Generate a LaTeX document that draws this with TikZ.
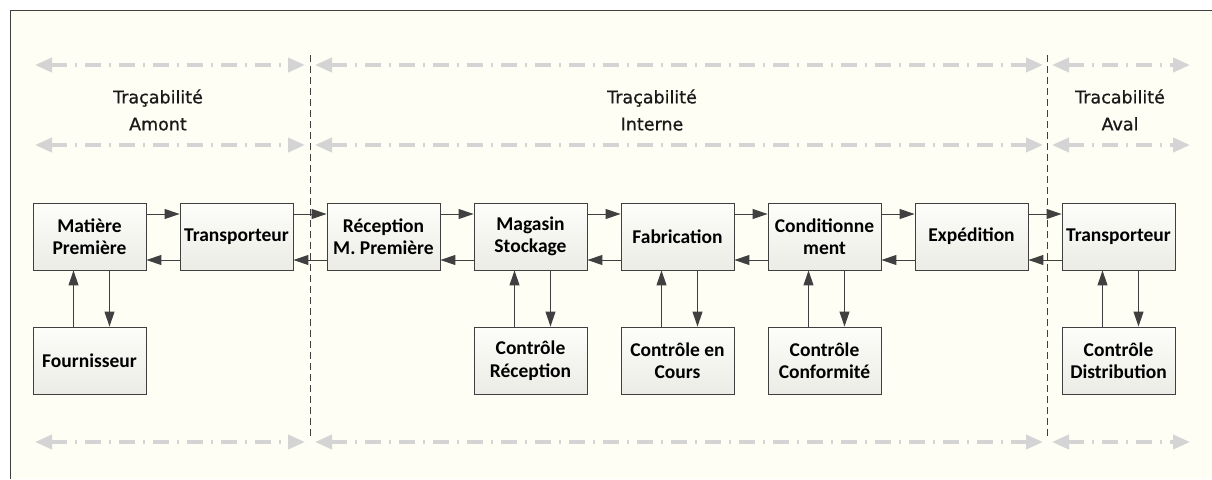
\documentclass[tikz,border=0pt]{standalone}
\usepackage{fontspec}
\setmainfont{Carlito}
\newfontfamily\titlefont[BoldFont=DejaVu Sans,BoldFeatures={FakeBold=0.8}]{DejaVu Sans}
\usetikzlibrary{arrows.meta,shadows}
\definecolor{bgcream}{RGB}{254,254,244}
\definecolor{linegray}{RGB}{64,64,64}
\definecolor{bandgray}{RGB}{212,212,212}
\definecolor{boxtop}{RGB}{253,253,249}
\definecolor{boxbot}{RGB}{236,236,231}
\tikzset{
  etape/.style={draw=linegray,line width=0.9pt,top color=boxtop,bottom color=boxbot,
    drop shadow={shadow xshift=1.2pt,shadow yshift=-1.2pt,opacity=0.35},
    minimum width=113pt,minimum height=67pt,inner sep=0pt,align=center,
    font=\fontsize{19.5}{22.5}\selectfont\bfseries},
  flux/.style={draw=linegray,line width=1pt,-{Triangle[length=15pt,width=10pt]}},
  bande/.style={draw=bandgray,line width=3.8pt,dash pattern=on 16pt off 8pt on 2pt off 8pt,
    {Triangle[length=17pt,width=14pt]}-{Triangle[length=17pt,width=14pt]}},
  titre/.style={align=center,text=black!90,font=\titlefont\bfseries\fontsize{17.5}{27}\selectfont}
}
\begin{document}
\begin{tikzpicture}[x=1pt,y=-1pt]
\useasboundingbox (0,0) rectangle (1212,479);
\fill[white] (0,0) rectangle (1212,479);
\fill[bgcream] (10,10) rectangle (1212,479);
\draw[linegray,line width=0.9pt] (10,479)--(10,10)--(1212,10);
% limites des zones
\foreach \x in {310,1047}{
\draw[linegray,line width=0.7pt,dash pattern=on 7pt off 4pt] (\x,55)--(\x,438);
};
\foreach \y in {65,145,442}{
\draw[bande] (35,\y)--(305,\y);
\draw[bande] (315,\y)--(1043,\y);
\draw[bande] (1052,\y)--(1190,\y);
};
\node[titre] at (158,110) {Traçabilité\\Amont};
\node[titre] at (652,110) {Traçabilité\\Interne};
\node[titre] at (1120,110) {Tracabilité\\Aval};
% chaine principale
\node[etape] (mat) at (89.5,236.5) {Matière\\Première};
\node[etape] (trA) at (236.5,236.5) {Transporteur};
\node[etape] (rec) at (383.5,236.5) {Réception\\M. Première};
\node[etape] (mag) at (530.5,236.5) {Magasin\\Stockage};
\node[etape] (fab) at (677.5,236.5) {Fabrication};
\node[etape] (cond) at (824.5,236.5) {Conditionne\\ment};
\node[etape] (exp) at (971.5,236.5) {Expédition};
\node[etape] (trB) at (1118.5,236.5) {Transporteur};
% controles
\node[etape] (fourn) at (89.5,360.5) {Fournisseur};
\node[etape] (ctrRec) at (530.5,360.5) {Contrôle\\Réception};
\node[etape] (ctrCours) at (677.5,360.5) {Contrôle en\\Cours};
\node[etape] (ctrConf) at (824.5,360.5) {Contrôle\\Conformité};
\node[etape] (ctrDist) at (1118.5,360.5) {Contrôle\\Distribution};
\foreach \a/\b in {mat/trA,trA/rec,rec/mag,mag/fab,fab/cond,cond/exp,exp/trB}{
\draw[flux] ([yshift=22.5pt]\a.east)--([yshift=22.5pt]\b.west);
\draw[flux] ([yshift=-23.5pt]\b.west)--([yshift=-23.5pt]\a.east);
};
\foreach \h/\c in {mat/fourn,mag/ctrRec,fab/ctrCours,cond/ctrConf,trB/ctrDist}{
\draw[flux] ([xshift=-16pt]\c.north)--([xshift=-16pt]\h.south);
\draw[flux] ([xshift=20pt]\h.south)--([xshift=20pt]\c.north);
};
\end{tikzpicture}
\end{document}
